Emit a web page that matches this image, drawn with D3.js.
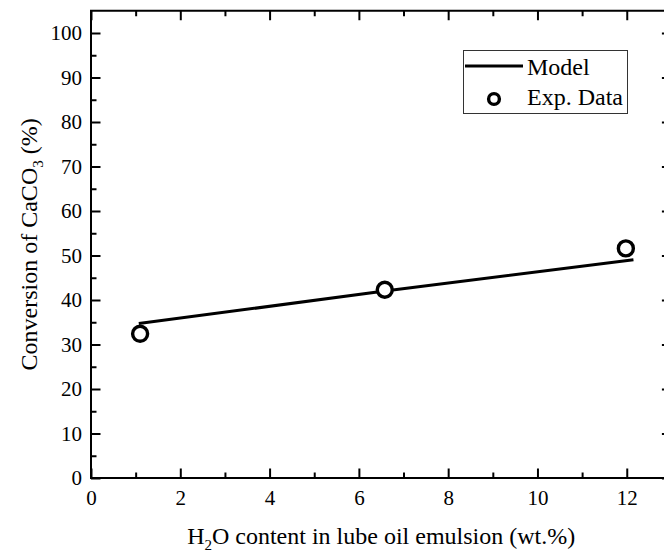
<!DOCTYPE html>
<html>
<head>
<meta charset="utf-8">
<script src="https://cdn.jsdelivr.net/npm/d3@7"></script>
<style>
  html, body { margin: 0; padding: 0; background: #fff; }
  svg { display: block; }
  svg text { font-family: "Liberation Serif", "Times New Roman", serif !important; fill: #000; }
</style>
</head>
<body>
<svg id="chart" width="664" height="554"></svg>
<script>
// Model curve: CaCO3 conversion vs water content
const modelX = [1.07, 6.58, 12.15];
const modelY = [34.7, 42.0, 49.05];

// Experimental points
const expX = [1.1, 6.58, 11.98];
const expY = [32.4, 42.3, 51.6];

// Axis ticks
const xMajorTicks = [0, 2, 4, 6, 8, 10, 12];
const xMinorTicks = [1, 3, 5, 7, 9, 11, 13];
const yMajorTicks = [0, 10, 20, 30, 40, 50, 60, 70, 80, 90, 100];
const yMinorTicks = [5, 15, 25, 35, 45, 55, 65, 75, 85, 95];

const legendLabels = ["Model", "Exp. Data"];

const serif = '"Liberation Serif", "Times New Roman", serif';
const svg = d3.select("#chart");
const plotL = 91, plotR = 671.4, plotT = 10.75, plotB = 478;

const x = d3.scaleLinear().domain([0, 13]).range([plotL, plotR]);
const y = d3.scaleLinear().domain([0, 105]).range([plotB, plotT]);

// Frame
svg.append("rect")
  .attr("x", plotL).attr("y", plotT)
  .attr("width", plotR - plotL).attr("height", plotB - plotT)
  .attr("fill", "none").attr("stroke", "#000").attr("stroke-width", 2);

function styleAxis(g, fontSize) {
  g.attr("font-family", null).style("font-family", serif);
  g.select(".domain").remove();
  g.selectAll(".tick line").attr("stroke", "#000").attr("stroke-width", 2);
  g.selectAll(".tick text")
    .style("font-family", serif)
    .attr("font-size", fontSize).attr("fill", "#000");
}

// Bottom axis (ticks point inward)
svg.append("g").attr("transform", `translate(0,${plotB})`)
  .call(d3.axisBottom(x).tickValues(xMajorTicks).tickFormat(d3.format("d"))
    .tickSizeInner(-9.5).tickSizeOuter(0).tickPadding(12))
  .call(g => styleAxis(g, 21));
svg.append("g").attr("transform", `translate(0,${plotB})`)
  .call(d3.axisBottom(x).tickValues(xMinorTicks).tickFormat("")
    .tickSizeInner(-5.5).tickSizeOuter(0))
  .call(g => styleAxis(g, 21));

// Top axis
svg.append("g").attr("transform", `translate(0,${plotT})`)
  .call(d3.axisTop(x).tickValues(xMajorTicks).tickFormat("")
    .tickSizeInner(-9.5).tickSizeOuter(0))
  .call(g => styleAxis(g, 21));
svg.append("g").attr("transform", `translate(0,${plotT})`)
  .call(d3.axisTop(x).tickValues(xMinorTicks).tickFormat("")
    .tickSizeInner(-5.5).tickSizeOuter(0))
  .call(g => styleAxis(g, 21));

// Left axis
svg.append("g").attr("transform", `translate(${plotL},0)`)
  .call(d3.axisLeft(y).tickValues(yMajorTicks).tickFormat(d3.format("d"))
    .tickSizeInner(-9.5).tickSizeOuter(0).tickPadding(9))
  .call(g => styleAxis(g, 21));
svg.append("g").attr("transform", `translate(${plotL},0)`)
  .call(d3.axisLeft(y).tickValues(yMinorTicks).tickFormat("")
    .tickSizeInner(-5.5).tickSizeOuter(0))
  .call(g => styleAxis(g, 21));

// Right axis
svg.append("g").attr("transform", `translate(${plotR},0)`)
  .call(d3.axisRight(y).tickValues(yMajorTicks).tickFormat("")
    .tickSizeInner(-9.5).tickSizeOuter(0))
  .call(g => styleAxis(g, 21));
svg.append("g").attr("transform", `translate(${plotR},0)`)
  .call(d3.axisRight(y).tickValues(yMinorTicks).tickFormat("")
    .tickSizeInner(-5.5).tickSizeOuter(0))
  .call(g => styleAxis(g, 21));

// Model line
const line = d3.line().x(d => x(d[0])).y(d => y(d[1]));
svg.append("path")
  .datum(d3.zip(modelX, modelY))
  .attr("d", line)
  .attr("fill", "none").attr("stroke", "#000").attr("stroke-width", 3);

// Experimental markers
svg.append("g").selectAll("circle")
  .data(d3.zip(expX, expY))
  .join("circle")
  .attr("cx", d => x(d[0])).attr("cy", d => y(d[1]))
  .attr("r", 7.5)
  .attr("fill", "#fff").attr("stroke", "#000").attr("stroke-width", 3.4);

// Axis titles
const xt = svg.append("text")
  .attr("x", (plotL + plotR) / 2).attr("y", 544)
  .attr("text-anchor", "middle").attr("font-size", 24);
xt.append("tspan").text("H");
xt.append("tspan").text("2").attr("font-size", 15).attr("dy", 6);
xt.append("tspan").text("O content in lube oil emulsion (wt.%)").attr("dy", -6);

const yt = svg.append("text")
  .attr("transform", `translate(37,${(plotT + plotB) / 2}) rotate(-90)`)
  .attr("text-anchor", "middle").attr("font-size", 24);
yt.append("tspan").text("Conversion of CaCO");
yt.append("tspan").text("3").attr("font-size", 15).attr("dy", 6);
yt.append("tspan").text(" (%)").attr("dy", -6);

// Legend
const lg = svg.append("g");
lg.append("rect")
  .attr("x", 463.5).attr("y", 50.5).attr("width", 164).attr("height", 63)
  .attr("fill", "#fff").attr("stroke", "#333").attr("stroke-width", 1);
lg.append("line")
  .attr("x1", 465).attr("x2", 523).attr("y1", 66).attr("y2", 66)
  .attr("stroke", "#000").attr("stroke-width", 3.2);
lg.append("circle")
  .attr("cx", 494).attr("cy", 99).attr("r", 5.4)
  .attr("fill", "#fff").attr("stroke", "#000").attr("stroke-width", 3.4);
lg.selectAll("text.lab")
  .data(legendLabels)
  .join("text").attr("class", "lab")
  .attr("x", 527).attr("y", (d, i) => 75 + i * 30)
  .attr("font-size", 24)
  .text(d => d);
</script>
</body>
</html>
